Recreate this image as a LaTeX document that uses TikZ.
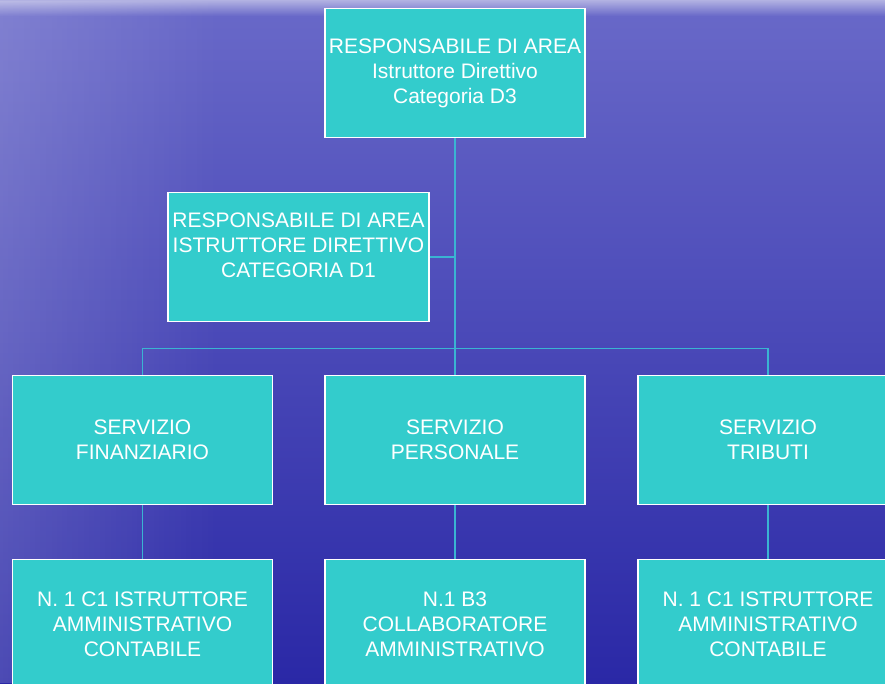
\documentclass[tikz,border=0pt]{standalone}
\usepackage{fontspec}
\setmainfont{Liberation Sans}
\usetikzlibrary{fadings}
\definecolor{boxFill}{HTML}{33CCCC}
\definecolor{linkBlue}{HTML}{3AB4D2}
\definecolor{seaTop}{HTML}{6868C8}
\definecolor{seaMid}{HTML}{3A3AB8}
\definecolor{seaBottom}{HTML}{2A28A6}
\definecolor{skyStrip}{HTML}{B2B2E2}
\begin{document}
\begin{tikzpicture}[x=1pt, y=1pt, node distance=184pt, font=\fontsize{21}{25}\selectfont]
% Define org chart styles
\tikzstyle{office} = [rectangle, draw=white, line width=1.6pt, fill=boxFill, text=white, align=center, minimum height=129pt, minimum width=260pt, inner sep=1pt]
\tikzstyle{link} = [draw=linkBlue, line width=1.5pt]

% Background (sea)
\useasboundingbox (0,0) rectangle (885,-683);
\clip (0,0) rectangle (885,-683);
\shade[top color=seaTop, middle color=seaMid, bottom color=seaBottom] (0,-12) rectangle (885,-683);
\shade[top color=skyStrip, bottom color=seaTop] (0,0) rectangle (885,-16);
\fill[white, path fading=east, opacity=0.16] (0,0) rectangle (220,-683);

% Define nodes (head of area)
\node[office] (Area) at (455,-73) {RESPONSABILE DI AREA\\Istruttore Direttivo\\Categoria D3};
\node[office, below of=Area, xshift=-156.5pt, minimum width=261pt, text depth=23pt] (AreaD1) {RESPONSABILE DI AREA\\ISTRUTTORE DIRETTIVO\\CATEGORIA D1};

% Define second layer nodes (Services)
\node[office, below of=Area, yshift=-183pt] (Personale) {SERVIZIO\\PERSONALE};
\node[office, left of=Personale, xshift=-128.5pt] (Finanziario) {SERVIZIO\\FINANZIARIO};
\node[office, right of=Personale, xshift=129pt] (Tributi) {SERVIZIO\\TRIBUTI};

% Define third layer nodes (Staff)
\node[office, below of=Finanziario] (IstruttoreFin) {N. 1 C1 ISTRUTTORE\\AMMINISTRATIVO\\CONTABILE};
\node[office, below of=Personale] (Collaboratore) {N.1 B3\\COLLABORATORE\\AMMINISTRATIVO};
\node[office, below of=Tributi] (IstruttoreTrib) {N. 1 C1 ISTRUTTORE\\AMMINISTRATIVO\\CONTABILE};

% Relationships
\draw[link] (Area) -- (Personale);
\draw[link] (AreaD1.east) -- (AreaD1.east -| Area.south);
\draw[link] (Finanziario.north) -- ++(0,26) -| (Tributi.north);
\draw[link] (Finanziario) -- (IstruttoreFin);
\draw[link] (Personale) -- (Collaboratore);
\draw[link] (Tributi) -- (IstruttoreTrib);

\end{tikzpicture}
\end{document}
